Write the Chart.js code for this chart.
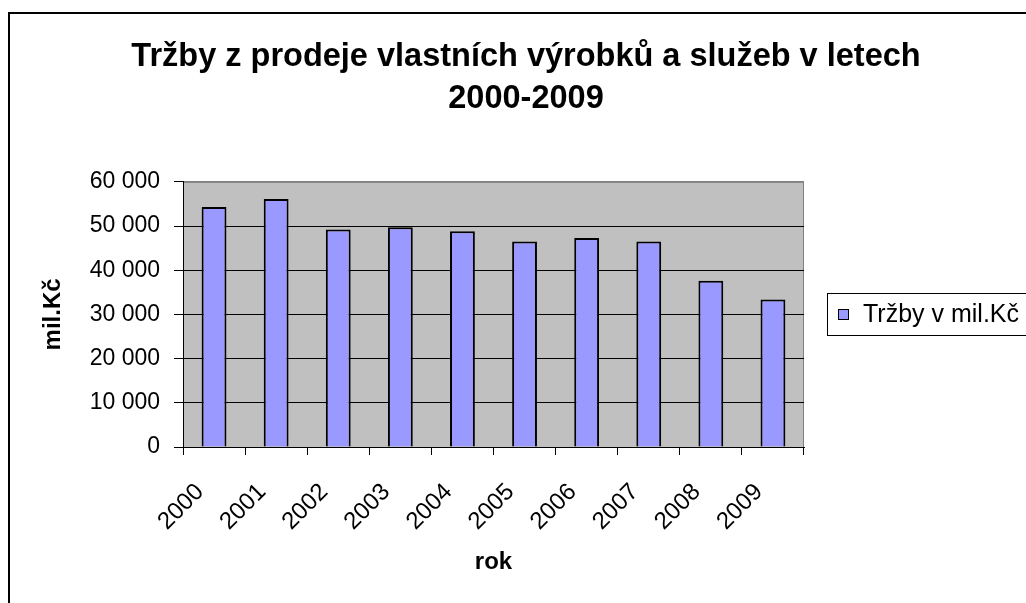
<!DOCTYPE html>
<html>
<head>
<meta charset="utf-8">
<script src="https://cdn.jsdelivr.net/npm/chart.js@4/dist/chart.umd.min.js"></script>
<style>
  html, body { margin: 0; padding: 0; background: #fff; overflow: hidden; }
  #wrap { width: 1026px; height: 603px; }
</style>
</head>
<body>
<div id="wrap"><canvas id="trzbyChart" width="1026" height="603"></canvas></div>
<script>
// --- Data ---
const roky = ['2000', '2001', '2002', '2003', '2004', '2005', '2006', '2007', '2008', '2009'];
const trzby = [54300, 56100, 49200, 49700, 48800, 46500, 47300, 46500, 37600, 33400];
const nadpis = ['Tržby z prodeje vlastních výrobků a služeb v letech', '2000-2009'];
const popisekRady = 'Tržby v mil.Kč';

const FONT = "'Liberation Sans', Arial, sans-serif";

// formát čísel s mezerou jako oddělovačem tisíců
function formatCislo(v) {
    return String(v).replace(/\B(?=(\d{3})+(?!\d))/g, ' ');
}

// Excel-like pozadí, rámeček a legenda
const excelStyl = {
    id: 'excelStyl',
    beforeDraw(chart) {
        const { ctx, chartArea: a } = chart;
        ctx.save();
        // šedé pozadí plochy grafu
        ctx.fillStyle = '#C0C0C0';
        ctx.fillRect(a.left, a.top, a.right - a.left, a.bottom - a.top);
        ctx.strokeStyle = '#808080';
        ctx.lineWidth = 1;
        ctx.beginPath();
        ctx.moveTo(a.left, a.top + 0.5);
        ctx.lineTo(a.right - 0.5, a.top + 0.5);
        ctx.lineTo(a.right - 0.5, a.bottom);
        ctx.stroke();
        ctx.restore();
    },
    afterDraw(chart) {
        const { ctx } = chart;
        ctx.save();
        // vnější rámeček
        ctx.strokeStyle = '#000';
        ctx.lineWidth = 2;
        ctx.strokeRect(9, 13, 1100, 700);

        // legenda
        const ds = chart.data.datasets[0];
        ctx.lineWidth = 1;
        ctx.strokeStyle = '#000';
        ctx.fillStyle = '#fff';
        ctx.fillRect(827.5, 293.5, 300, 42);
        ctx.strokeRect(827.5, 293.5, 300, 42);
        ctx.fillStyle = ds.backgroundColor;
        ctx.fillRect(838.5, 309.5, 10, 10);
        ctx.strokeRect(838.5, 309.5, 10, 10);
        ctx.fillStyle = '#000';
        ctx.font = '25px ' + FONT;
        ctx.textBaseline = 'middle';
        ctx.fillText(ds.label, 863, 315);
        ctx.restore();
    }
};

const ctx = document.getElementById('trzbyChart').getContext('2d');
new Chart(ctx, {
    type: 'bar',
    data: {
        labels: roky,
        datasets: [{
            label: popisekRady,
            data: trzby,
            backgroundColor: '#9999FF',
            borderColor: '#000',
            borderWidth: 2,
            categoryPercentage: 1,
            barPercentage: 0.4
        }]
    },
    options: {
        responsive: false,
        animation: false,
        layout: { padding: { left: 26, right: 0, top: 0, bottom: 0 } },
        plugins: {
            legend: { display: false },
            tooltip: { enabled: false },
            title: {
                display: true,
                text: nadpis,
                color: '#000',
                font: { family: FONT, size: 32.5, weight: 'bold', lineHeight: 1.29 },
                padding: { top: 36, bottom: 62 }
            }
        },
        scales: {
            x: {
                afterFit(scale) { scale.height = 156; },
                grid: {
                    offset: true,
                    drawOnChartArea: false,
                    color: '#000',
                    tickLength: 8
                },
                border: { color: '#000', width: 1 },
                ticks: {
                    color: '#000',
                    font: { family: FONT, size: 24 },
                    autoSkip: false,
                    minRotation: 45,
                    maxRotation: 45,
                    padding: 23,
                    labelOffset: -14
                },
                title: {
                    display: true,
                    text: 'rok',
                    color: '#000',
                    font: { family: FONT, size: 24, weight: 'bold' },
                    padding: { top: 0, bottom: 26 }
                }
            },
            y: {
                min: 0,
                max: 60000,
                afterFit(scale) { scale.width = 157; },
                grid: {
                    color: (c) => (c.tick && c.tick.value === 60000 ? '#808080' : '#000'),
                    tickColor: '#000',
                    tickLength: 9,
                    lineWidth: 1
                },
                border: { color: '#000', width: 1 },
                ticks: {
                    stepSize: 10000,
                    color: '#000',
                    font: { family: FONT, size: 23 },
                    padding: 14,
                    callback: (v) => formatCislo(v)
                },
                title: {
                    display: true,
                    text: 'mil.Kč',
                    color: '#000',
                    font: { family: FONT, size: 24, weight: 'bold' },
                    padding: { top: 13, bottom: 0 }
                }
            },
            // prázdná osa vpravo – místo pro legendu
            misto: {
                position: 'right',
                afterFit(scale) { scale.width = 222; },
                grid: { display: false },
                border: { display: false },
                ticks: { display: false }
            }
        }
    },
    plugins: [excelStyl]
});
</script>
</body>
</html>
